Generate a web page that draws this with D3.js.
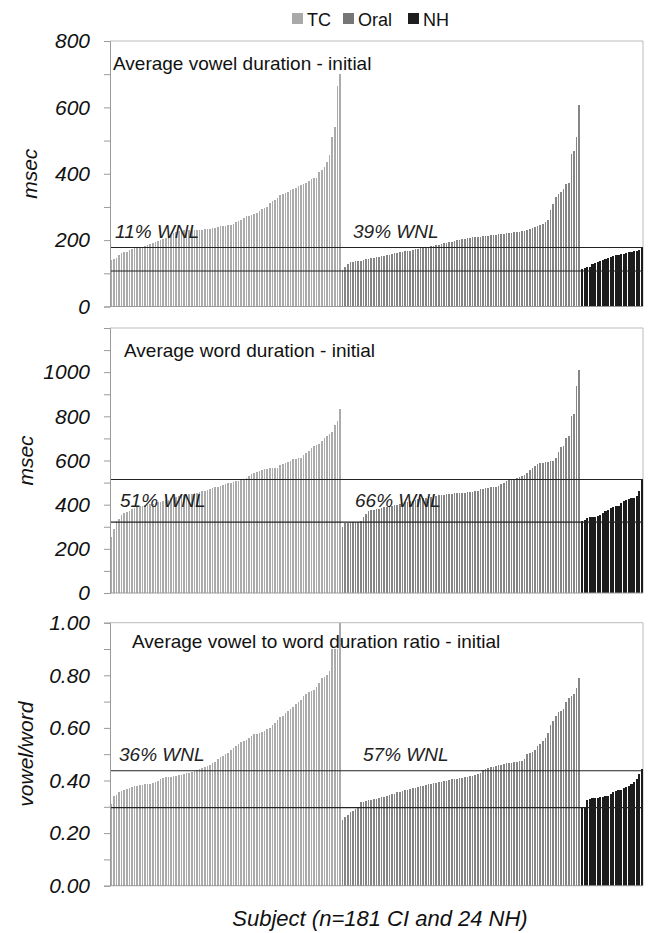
<!DOCTYPE html>
<html>
<head>
<meta charset="utf-8">
<script src="https://cdn.jsdelivr.net/npm/d3@7"></script>
<style>
  body { margin: 0; background: #fff; }
  svg { display: block; font-family: "Liberation Sans", Arial, Helvetica, sans-serif; }
</style>
</head>
<body>
<svg id="chart" width="650" height="933"></svg>
<script>
// Group sizes and legend
const groups = ["TC", "Oral", "NH"];
const groupColors = { TC: "#ababab", Oral: "#858585", NH: "#1c1c1c" };
const groupWidth = { TC: 0.66, Oral: 0.66, NH: 0.86 };
const legendSwatch = { TC: "#a9a9a9", Oral: "#767676", NH: "#1e1e1e" };

// Average vowel duration (msec), each group sorted ascending
const vowelTC = [140,142,145,155,160,163,165,170,172,175,176,178,180,183,186,188,190,193,196,200,
  203,207,210,215,220,224,227,229,230,230,231,231,231,232,232,232,233,233,234,236,
  238,240,242,243,244,245,247,250,255,258,262,268,272,274,276,278,282,288,293,296,
  300,312,318,322,328,335,340,342,345,350,355,358,362,365,370,373,378,383,388,388,
  405,412,420,435,455,510,540,665,700];
const vowelOral = [110,118,128,133,135,136,137,138,140,142,143,145,146,148,150,152,153,155,156,158,
  160,162,163,164,166,167,168,170,172,174,175,177,178,180,181,183,185,186,188,190,
  191,193,195,197,199,200,202,204,205,207,208,209,210,210,211,212,213,214,215,216,
  217,218,219,220,221,222,223,224,225,227,229,232,235,238,241,244,247,250,255,262,
  290,310,330,340,345,355,370,372,460,470,512,608];
const vowelNH = [112,115,118,120,128,132,135,138,140,143,146,150,152,154,156,158,158,160,163,165,
  166,168,170,180];

// Average word duration (msec)
const wordTC = [255,290,325,335,355,362,368,372,380,385,388,392,395,398,400,403,405,408,410,413,
  416,420,422,428,432,436,440,442,444,446,448,450,452,455,458,460,462,465,470,475,
  478,482,485,490,495,498,500,503,506,508,510,512,520,530,538,542,548,552,556,560,
  563,565,566,567,568,580,585,590,595,600,605,608,610,612,625,635,645,655,665,668,
  675,690,700,710,720,730,760,780,835];
const wordOral = [300,315,318,320,320,322,323,325,345,360,370,375,378,380,382,385,388,390,392,395,
  398,400,403,406,410,412,415,418,420,424,428,430,432,434,436,438,440,442,444,446,
  448,449,450,451,452,453,454,455,456,457,458,460,462,470,472,474,476,478,480,482,
  485,495,500,505,510,515,518,520,525,530,535,545,555,565,575,585,588,590,592,594,
  596,600,610,640,660,665,700,712,800,810,936,1012];
const wordNH = [325,330,340,342,344,346,350,355,362,370,378,385,388,392,395,408,415,420,425,430,
  432,440,460,518];

// Average vowel to word duration ratio
const ratioTC = [0.31,0.34,0.345,0.355,0.36,0.365,0.368,0.372,0.375,0.378,0.38,0.382,0.383,0.385,0.386,0.388,0.39,0.395,0.40,0.405,
  0.41,0.412,0.414,0.415,0.416,0.418,0.42,0.422,0.425,0.428,0.43,0.432,0.435,0.44,0.445,0.447,0.45,0.455,0.46,0.465,
  0.47,0.48,0.49,0.495,0.50,0.505,0.515,0.525,0.53,0.54,0.545,0.55,0.555,0.56,0.57,0.575,0.578,0.58,0.585,0.59,
  0.595,0.60,0.61,0.62,0.63,0.64,0.645,0.655,0.665,0.67,0.68,0.69,0.70,0.705,0.72,0.73,0.735,0.74,0.745,0.755,
  0.77,0.79,0.795,0.80,0.815,0.90,0.90,0.90,1.00];
const ratioOral = [0.25,0.26,0.27,0.28,0.285,0.29,0.30,0.318,0.32,0.322,0.324,0.326,0.328,0.33,0.333,0.336,0.338,0.34,0.343,0.347,
  0.35,0.355,0.358,0.36,0.362,0.364,0.367,0.37,0.373,0.376,0.378,0.38,0.382,0.385,0.388,0.39,0.392,0.394,0.396,0.398,
  0.40,0.402,0.404,0.405,0.407,0.409,0.41,0.412,0.414,0.416,0.418,0.42,0.423,0.43,0.44,0.443,0.446,0.45,0.453,0.456,
  0.458,0.46,0.463,0.465,0.467,0.468,0.47,0.472,0.474,0.476,0.48,0.50,0.505,0.51,0.515,0.53,0.54,0.55,0.56,0.58,
  0.61,0.625,0.645,0.66,0.665,0.67,0.70,0.715,0.72,0.73,0.75,0.79];
const ratioNH = [0.30,0.30,0.325,0.33,0.332,0.334,0.335,0.336,0.338,0.34,0.342,0.35,0.355,0.36,0.362,0.365,0.37,0.375,0.38,0.385,
  0.395,0.405,0.425,0.445];

// Normal-limit reference lines (lower, upper)
const vowelLimits = [107, 178];
const wordLimits = [321, 514];
const ratioLimits = [0.297, 0.437];

// Panel text
const panelTitles = ["Average vowel duration - initial", "Average word duration - initial", "Average vowel to word duration ratio - initial"];
const yTitles = ["msec", "msec", "vowel/word"];
const wnlTC = ["11% WNL", "51% WNL", "36% WNL"];
const wnlOral = ["39% WNL", "66% WNL", "57% WNL"];
const vowelTicks = [0, 200, 400, 600, 800];
const wordTicks = [0, 200, 400, 600, 800, 1000];
const ratioTicks = [0, 0.2, 0.4, 0.6, 0.8, 1.0];
const xTitle = "Subject (n=181 CI and 24 NH)";

const panels = [
  { tc: vowelTC, oral: vowelOral, nh: vowelNH, limits: vowelLimits, ticks: vowelTicks, max: 800, minorStep: 100, fmt: d3.format("d"),
    top: 41, bottom: 306.5, titleX: 113, titleY: 70, wnlY: 238, wnlX: [115, 353], yTitleX: 37 },
  { tc: wordTC, oral: wordOral, nh: wordNH, limits: wordLimits, ticks: wordTicks, max: 1200, minorStep: 100, fmt: d3.format("d"),
    top: 328, bottom: 593, titleX: 124, titleY: 357, wnlY: 507, wnlX: [120, 355], yTitleX: 33 },
  { tc: ratioTC, oral: ratioOral, nh: ratioNH, limits: ratioLimits, ticks: ratioTicks, max: 1.0, minorStep: 0.1, fmt: d3.format(".2f"),
    top: 622.7, bottom: 885.7, titleX: 132, titleY: 648, wnlY: 761, wnlX: [119, 363], yTitleX: 33 }
];

const left = 110, right = 643;
const svg = d3.select("#chart");

panels.forEach((p, pi) => {
  const rows = [
    ...p.tc.map(v => ({ g: "TC", v })),
    ...p.oral.map(v => ({ g: "Oral", v })),
    ...p.nh.map(v => ({ g: "NH", v }))
  ];
  const x = d3.scaleBand().domain(d3.range(rows.length)).range([left, right]).padding(0);
  const y = d3.scaleLinear().domain([0, p.max]).range([p.bottom, p.top]);
  const g = svg.append("g");

  // frame (top and right edges)
  g.append("path")
    .attr("d", `M${left},${p.top}H${right}V${p.bottom}`)
    .attr("fill", "none").attr("stroke", "#bbbbbb").attr("stroke-width", 1);

  // bars, drawn as thin crisp strips so the white gaps show between them
  const bw = x.bandwidth();
  g.append("g").attr("shape-rendering", "crispEdges")
    .selectAll("rect").data(rows).join("rect")
    .attr("x", (d, i) => x(i) + 0.3)
    .attr("width", d => bw * groupWidth[d.g])
    .attr("y", d => y(Math.min(d.v, p.max)))
    .attr("height", d => p.bottom - y(Math.min(d.v, p.max)))
    .attr("fill", d => groupColors[d.g]);

  // reference lines
  g.append("g").selectAll("line").data(p.limits).join("line")
    .attr("x1", left).attr("x2", right)
    .attr("y1", d => y(d)).attr("y2", d => y(d))
    .attr("stroke", "#222").attr("stroke-width", 1.1);

  // y axis with major and minor ticks
  const minor = d3.range(0, p.max + p.minorStep / 2, p.minorStep);
  const yAxis = d3.axisLeft(y).tickValues(minor).tickSize(6).tickPadding(14)
    .tickFormat(d => p.ticks.some(t => Math.abs(t - d) < 1e-9) ? p.fmt(d) : "");
  const ax = g.append("g").attr("transform", `translate(${left},0)`).call(yAxis);
  ax.select(".domain").attr("stroke", "#9a9a9a");
  ax.selectAll(".tick line").attr("stroke", "#9a9a9a");
  ax.selectAll(".tick text")
    .attr("font-size", 21).attr("font-style", "italic").attr("fill", "#111");

  // bottom axis line
  g.append("line").attr("x1", left).attr("x2", right)
    .attr("y1", p.bottom).attr("y2", p.bottom)
    .attr("stroke", "#9a9a9a");

  // panel title
  g.append("text").attr("x", p.titleX).attr("y", p.titleY)
    .attr("font-size", 19).attr("fill", "#111").text(panelTitles[pi]);

  // WNL annotations
  [wnlTC[pi], wnlOral[pi]].forEach((t, k) => {
    g.append("text").attr("x", p.wnlX[k]).attr("y", p.wnlY)
      .attr("font-size", 19).attr("font-style", "italic").attr("fill", "#222").text(t);
  });

  // y axis title
  g.append("text")
    .attr("transform", `translate(${p.yTitleX},${(p.top + p.bottom) / 2}) rotate(-90)`)
    .attr("text-anchor", "middle").attr("font-size", 21).attr("font-style", "italic")
    .attr("fill", "#111").text(yTitles[pi]);
});

// x axis title
svg.append("text").attr("x", 380).attr("y", 926).attr("text-anchor", "middle")
  .attr("font-size", 22).attr("font-style", "italic").attr("fill", "#111").text(xTitle);

// legend
const legendX = { TC: 292, Oral: 343, NH: 408 };
const lg = svg.append("g");
groups.forEach(k => {
  lg.append("rect").attr("x", legendX[k]).attr("y", 13).attr("width", 11).attr("height", 11)
    .attr("fill", legendSwatch[k]);
  lg.append("text").attr("x", legendX[k] + 15).attr("y", 26)
    .attr("font-size", 18).attr("fill", "#111").text(k);
});
</script>
</body>
</html>
